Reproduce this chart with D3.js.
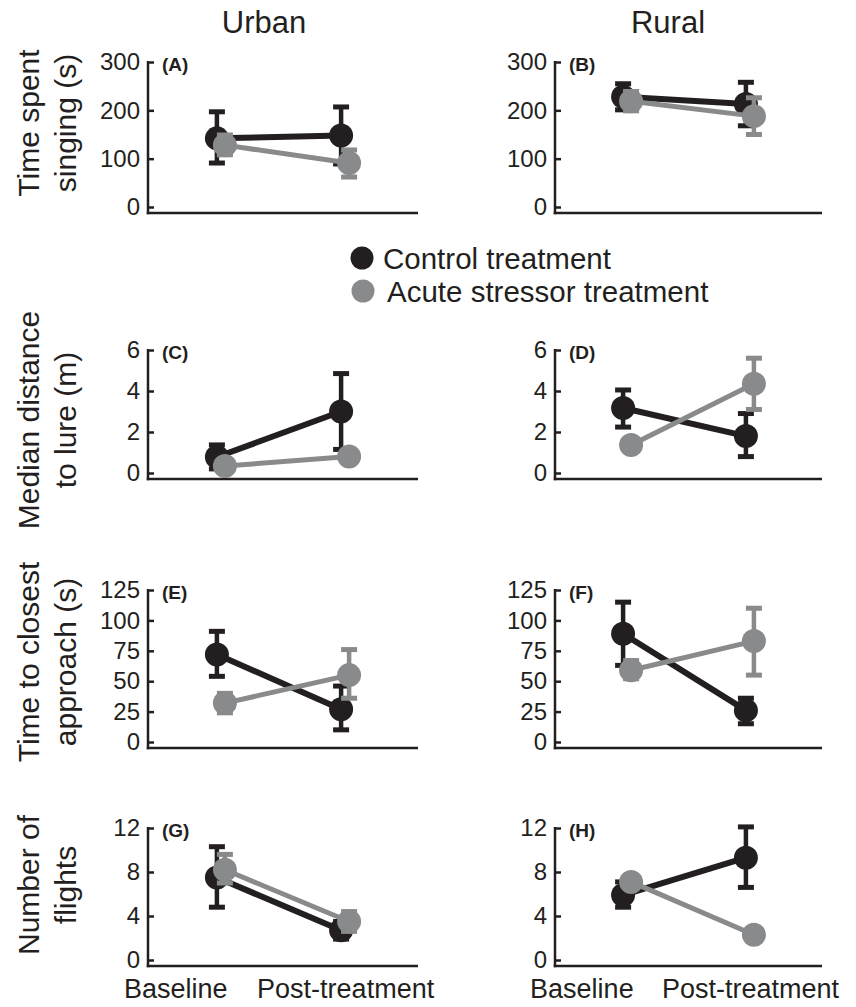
<!DOCTYPE html>
<html>
<head>
<meta charset="utf-8">
<script src="https://cdn.jsdelivr.net/npm/d3@7"></script>
<style>
  body { margin: 0; background: #fff; }
  svg text { font-family: "Liberation Sans", Arial, Helvetica, sans-serif; fill: #231f20; }
</style>
</head>
<body>
<svg id="chart" width="856" height="1007"></svg>
<script>
// ---- data ----
const phases = ["Baseline", "Post-treatment"];
const panelIds = ["A", "B", "C", "D", "E", "F", "G", "H"];
const yMax = [300, 300, 6, 6, 125, 125, 12, 12];
const yTicks = [
  [0, 100, 200, 300], [0, 100, 200, 300],
  [0, 2, 4, 6], [0, 2, 4, 6],
  [0, 25, 50, 75, 100, 125], [0, 25, 50, 75, 100, 125],
  [0, 4, 8, 12], [0, 4, 8, 12]
];

// control treatment: mean, lower, upper  [baseline, post]
const controlMean = [[142, 148], [228, 213], [0.78, 3.0], [3.17, 1.8], [72, 27], [89, 26], [7.5, 2.7], [5.9, 9.3]];
const controlLo   = [[91, 89],   [201, 168], [0.2, 1.15], [2.24, 0.8], [54, 10], [63, 15], [4.8, 1.9], [4.8, 6.6]];
const controlHi   = [[197, 207], [255, 258], [1.37, 4.85], [4.05, 2.9], [91, 46], [115, 36], [10.3, 3.5], [7.1, 12.1]];

// acute stressor treatment
const stressMean = [[128, 91],  [219, 188], [0.34, 0.8], [1.37, 4.35], [32, 55], [59, 83], [8.2, 3.5], [7.1, 2.3]];
const stressLo   = [[108, 62],  [199, 150], [0.15, 0.6], [1.12, 3.1],  [24, 36], [52, 55], [7.0, 2.6], [6.6, 2.0]];
const stressHi   = [[149, 118], [239, 226], [0.5, 1.0],  [1.62, 5.6],  [40, 76], [67, 110], [9.6, 4.4], [7.6, 2.6]];

const colTitles = ["Urban", "Rural"];
const rowLabels = [
  ["Time spent", "singing (s)"],
  ["Median distance", "to lure (m)"],
  ["Time to closest", "approach (s)"],
  ["Number of", "flights"]
];
const legendItems = ["Control treatment", "Acute stressor treatment"];

// ---- layout ----
const BLACK = "#231f20";
const GRAY = "#898a8c";
const cols = [{ x0: 148, x1: 418 }, { x0: 555, x1: 822 }];
const rows = [
  { top: 62, zero: 207, label: 123 },
  { top: 350, zero: 473, label: 420 },
  { top: 590, zero: 742, label: 662 },
  { top: 828, zero: 960, label: 885 }
];

const svg = d3.select("#chart");

// column titles
colTitles.forEach((t, i) => {
  svg.append("text")
    .attr("x", i === 0 ? 264 : 668)
    .attr("y", 33)
    .attr("text-anchor", "middle")
    .style("font-size", "31px")
    .text(t);
});

// row labels
rowLabels.forEach((lines, r) => {
  const cy = rows[r].label;
  lines.forEach((l, k) => {
    svg.append("text")
      .attr("transform", `translate(${k === 0 ? 28 : 65},${cy}) rotate(-90)`)
      .attr("text-anchor", "middle")
      .attr("dominant-baseline", "central")
      .style("font-size", "30px")
      .text(l);
  });
});

// ---- panels ----
panelIds.forEach((id, p) => {
  const col = cols[p % 2];
  const row = rows[Math.floor(p / 2)];
  const g = svg.append("g");

  const x = d3.scalePoint().domain(phases).range([col.x0, col.x1]).padding(0.587);
  const y = d3.scaleLinear().domain([0, yMax[p]]).range([row.zero, row.top]);
  const axisY = row.zero + 6;

  const yAxis = g.append("g")
    .attr("transform", `translate(${col.x0},0)`)
    .call(d3.axisLeft(y).tickValues(yTicks[p]).tickFormat(d3.format("d"))
      .tickSize(-6).tickSizeOuter(0).tickPadding(8));
  yAxis.select(".domain").remove();
  yAxis.selectAll(".tick line").attr("stroke", BLACK).attr("stroke-width", 2.5);
  yAxis.selectAll(".tick text")
    .style("font-size", "24px")
    .style("font-family", '"Liberation Sans", Arial, sans-serif')
    .attr("fill", BLACK);

  g.append("line")
    .attr("x1", col.x0).attr("x2", col.x0)
    .attr("y1", row.top - 1).attr("y2", axisY + 1.25)
    .attr("stroke", BLACK).attr("stroke-width", 2.5);
  g.append("line")
    .attr("x1", col.x0 - 1.25).attr("x2", col.x1)
    .attr("y1", axisY).attr("y2", axisY)
    .attr("stroke", BLACK).attr("stroke-width", 2.5);

  g.append("text")
    .attr("x", col.x0 + 14)
    .attr("y", row.top + 9)
    .style("font-size", "19px")
    .style("font-weight", "bold")
    .text(`(${id})`);

  const series = [
    { mean: controlMean[p], lo: controlLo[p], hi: controlHi[p], color: BLACK, dx: -4, lw: 6 },
    { mean: stressMean[p], lo: stressLo[p], hi: stressHi[p], color: GRAY, dx: 4, lw: 5 }
  ];

  series.forEach(s => {
    const pts = phases.map((ph, i) => ({
      x: x(ph) + s.dx, m: s.mean[i], lo: s.lo[i], hi: s.hi[i]
    }));
    const sg = g.append("g");

    sg.append("path")
      .datum(pts)
      .attr("fill", "none")
      .attr("stroke", s.color)
      .attr("stroke-width", s.lw)
      .attr("d", d3.line().x(d => d.x).y(d => y(d.m)));

    const eb = sg.selectAll(".eb").data(pts).enter().append("g");
    eb.append("line")
      .attr("x1", d => d.x).attr("x2", d => d.x)
      .attr("y1", d => y(d.lo)).attr("y2", d => y(d.hi))
      .attr("stroke", s.color).attr("stroke-width", 4.5);
    eb.selectAll(".cap")
      .data(d => [d.lo, d.hi].map(v => ({ x: d.x, v })))
      .enter().append("line")
      .attr("x1", d => d.x - 8).attr("x2", d => d.x + 8)
      .attr("y1", d => y(d.v)).attr("y2", d => y(d.v))
      .attr("stroke", s.color).attr("stroke-width", 5);

    sg.selectAll("circle").data(pts).enter().append("circle")
      .attr("cx", d => d.x).attr("cy", d => y(d.m))
      .attr("r", 12)
      .attr("fill", s.color);
  });

  // category labels under bottom row
  if (p >= 6) {
    g.append("text")
      .attr("x", x(phases[0]) - 97).attr("y", 998)
      .style("font-size", "27px")
      .text(phases[0]);
    g.append("text")
      .attr("x", x(phases[1]) - 88).attr("y", 998)
      .style("font-size", "27px")
      .text(phases[1]);
  }
});

// ---- legend ----
const legend = svg.append("g");
legendItems.forEach((t, i) => {
  const cy = i === 0 ? 258 : 291;
  legend.append("circle")
    .attr("cx", 362 + i).attr("cy", cy).attr("r", 11.5)
    .attr("fill", i === 0 ? BLACK : GRAY);
  legend.append("text")
    .attr("x", 383 + i * 4).attr("y", cy)
    .attr("dominant-baseline", "central")
    .style("font-size", "29.5px")
    .text(t);
});
</script>
</body>
</html>
